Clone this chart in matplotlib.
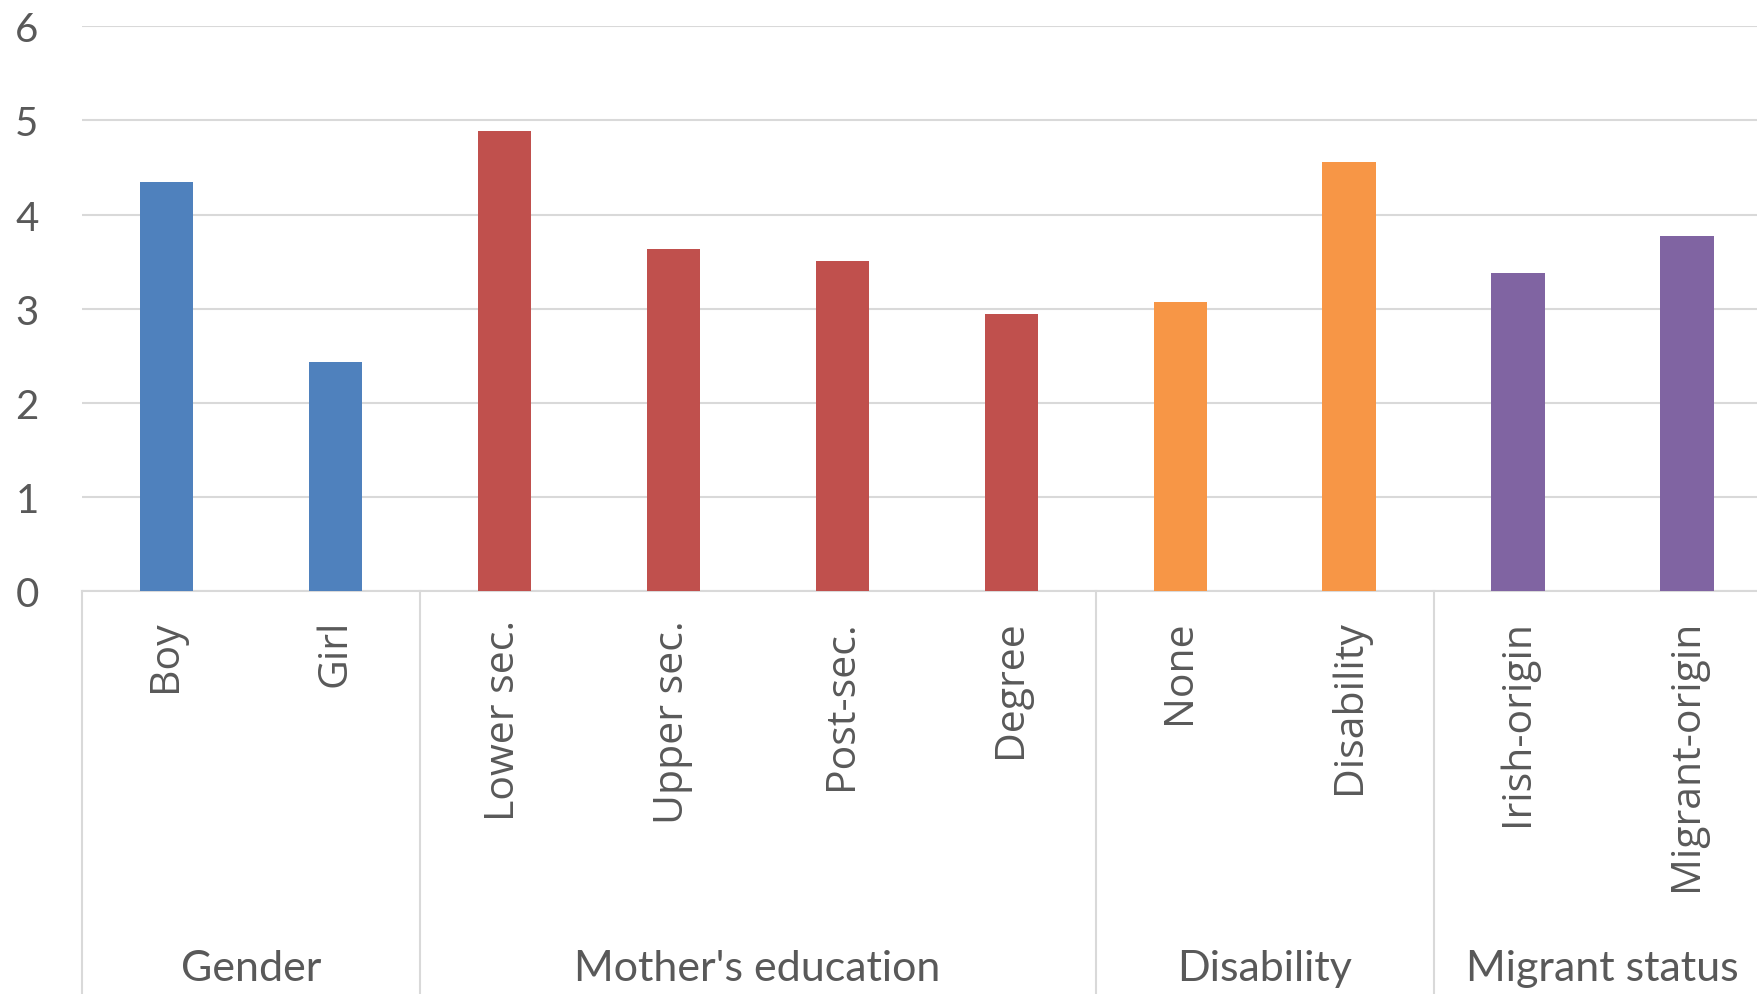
import matplotlib.pyplot as plt
import numpy as np

# data
categories = ['Boy', 'Girl', 'Lower sec.', 'Upper sec.', 'Post-sec.', 'Degree',
              'None', 'Disability', 'Irish-origin', 'Migrant-origin']
values = [4.35, 2.44, 4.89, 3.63, 3.51, 2.94, 3.07, 4.56, 3.38, 3.77]
groups = ['Gender', "Mother's education", 'Disability', 'Migrant status']
group_sizes = [2, 4, 2, 2]
group_colors = ['#4F81BD', '#C0504D', '#F79646', '#8064A2']
y_ticks = [0, 1, 2, 3, 4, 5, 6]

TEXT = '#595959'
GRID = '#D9D9D9'

fig = plt.figure(figsize=(17.57, 9.95), dpi=100)
ax = fig.add_axes([0.0465, 0.4047, 0.9618, 0.5679])

bar_colors = []
for c, n in zip(group_colors, group_sizes):
    bar_colors += [c] * n

x = np.arange(len(categories))
ax.bar(x, values, width=0.315, color=bar_colors, zorder=3)

ax.set_xlim(-0.5, len(categories) - 0.5)
ax.set_ylim(0, 6)
ax.set_yticks(y_ticks)
ax.set_yticklabels([str(v) for v in y_ticks], fontsize=29, family='Lato', color=TEXT)
ax.tick_params(axis='y', length=0, pad=31)
ax.grid(axis='y', color=GRID, linewidth=1.5, zorder=0)
for s in ['top', 'right', 'left']:
    ax.spines[s].set_visible(False)
ax.spines['bottom'].set_color(GRID)
ax.spines['bottom'].set_linewidth(1.5)

ax.set_xticks(x)
ax.set_xticklabels(categories, rotation=90, fontsize=29.5, family='Open Sans',
                   color=TEXT, va='top')
ax.tick_params(axis='x', length=0, pad=20)

# group separators and group labels below the axis
edges = np.concatenate([[0], np.cumsum(group_sizes)]) - 0.5
for e in edges:
    ax.axvline(e, ymin=-0.75, ymax=0, color=GRID, linewidth=1.5, clip_on=False)
for i, g in enumerate(groups):
    center = (edges[i] + edges[i + 1]) / 2
    ax.text(center, -0.667, g, transform=ax.get_xaxis_transform(),
            ha='center', va='center', fontsize=31, family='Lato', color=TEXT)

fig.savefig('out.png', dpi=100)
